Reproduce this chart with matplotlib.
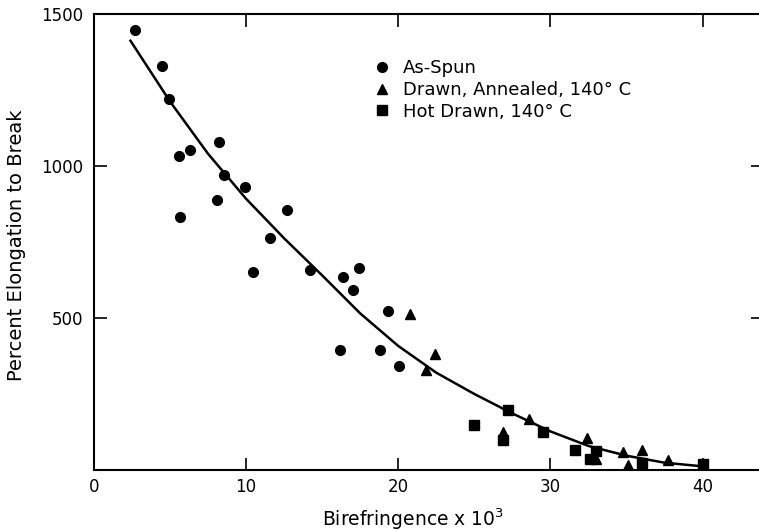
import matplotlib
matplotlib.use('Agg')
from matplotlib import pyplot as plt

plt.rcParams['font.family'] = ['DejaVu Sans']

# as-spun fibres
spun_x = [2.7, 4.45, 4.93, 5.6, 5.66, 6.3, 8.07, 8.25, 8.57, 9.9, 10.44,
          11.6, 12.7, 14.2, 16.2, 16.36, 17.0, 17.45, 18.8, 19.32, 20.07]
spun_y = [1448, 1330, 1219, 1032, 832, 1052, 888, 1078, 969, 930, 650,
          763, 855, 659, 395, 636, 592, 664, 395, 524, 342]

# drawn, annealed 140 C
annealed_x = [20.74, 21.8, 22.4, 26.9, 28.6, 32.4, 33.0, 34.8, 35.1, 36.0, 37.7]
annealed_y = [513, 330, 380, 124, 169, 106, 36, 60, 16, 66, 33]

# hot drawn 140 C
hot_x = [24.96, 26.9, 27.2, 29.5, 31.6, 32.6, 33.0, 36.0, 40.0]
hot_y = [147, 98, 197, 124, 66, 36, 62, 22, 19]

# fitted curve
curve_x = [2.4, 5, 7.5, 10, 12.5, 15, 17.5, 20, 22.5, 25, 27.5, 30, 32.5, 35, 37.5, 40]
curve_y = [1412, 1212, 1040, 892, 762, 640, 515, 408, 320, 250, 186, 127, 79, 47, 24, 12]

x_ticks = [0, 10, 20, 30, 40]
y_ticks = [500, 1000, 1500]


def main():
    fig = plt.figure(figsize=(7.59, 5.31), dpi=100)
    ax = fig.add_axes([0.1238, 0.1149, 0.882, 0.8588])

    ax.plot(curve_x, curve_y, color='black', linewidth=1.8)
    ax.plot(spun_x, spun_y, 'o', color='black', markersize=7, label='As-Spun')
    ax.plot(annealed_x, annealed_y, '^', color='black', markersize=7.5,
            label='Drawn, Annealed, 140° C')
    ax.plot(hot_x, hot_y, 's', color='black', markersize=6.5,
            label='Hot Drawn, 140° C')

    ax.set_xlim(0, 44.0)
    ax.set_ylim(0, 1500)
    ax.set_xticks(x_ticks)
    ax.set_yticks(y_ticks)
    ax.tick_params(direction='in', length=9, width=1.2, top=True, right=True,
                   labelsize=12, colors='black')
    ax.tick_params(axis='y', pad=8)
    ax.tick_params(axis='x', pad=6)
    for sp in ax.spines.values():
        sp.set_linewidth(1.5)

    ax.set_xlabel('Birefringence x 10$^3$', fontsize=13.5)
    ax.xaxis.set_label_coords(0.477, -0.081)
    ax.set_ylabel('Percent Elongation to Break', fontsize=14)
    ax.yaxis.set_label_coords(-0.102, 0.493)

    ax.legend(loc='upper left', bbox_to_anchor=(0.406, 0.92), frameon=False,
              fontsize=13, handlelength=0.8, handletextpad=0.78,
              labelspacing=0.2, borderpad=0)

    fig.savefig('out.png', dpi=100)


if __name__ == '__main__':
    main()
